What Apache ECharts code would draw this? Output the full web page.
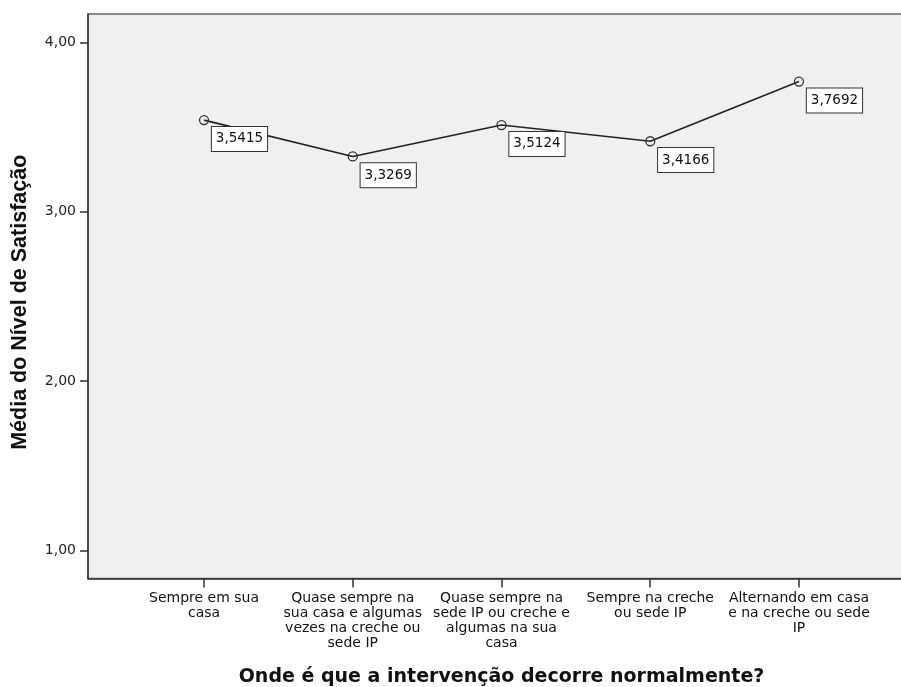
<!DOCTYPE html>
<html>
<head>
<meta charset="utf-8">
<script src="https://cdn.jsdelivr.net/npm/echarts@6/dist/echarts.min.js"></script>
<style>html,body{margin:0;padding:0;background:#fff}#c{width:901px;height:687px}</style>
</head>
<body>
<div id="c"></div>
<script>
var categories = [
  "Sempre em sua\ncasa",
  "Quase sempre na\nsua casa e algumas\nvezes na creche ou\nsede IP",
  "Quase sempre na\nsede IP ou creche e\nalgumas na sua\ncasa",
  "Sempre na creche\nou sede IP",
  "Alternando em casa\ne na creche ou sede\nIP"
];
var meanValues = [3.5415, 3.3269, 3.5124, 3.4166, 3.7692];
var yTicks = [1, 2, 3, 4];
var xTitle = "Onde é que a intervenção decorre normalmente?";
var yTitle = "Média do Nível de Satisfação";

var chart = echarts.init(document.getElementById('c'), null, {renderer: 'canvas'});
var idx = categories.map(function (c, i) { return i; });
var seriesData = meanValues.map(function (v, i) { return [i, v]; });

chart.setOption({
  animation: false,
  grid: {
    left: 88, top: 14, width: 827, height: 564.5,
    outerBoundsMode: 'none', containLabel: false,
    show: true, backgroundColor: '#f0f0f0', borderColor: '#666', borderWidth: 1.5
  },
  xAxis: {
    type: 'value', min: -0.78, max: 4.78,
    splitLine: {show: false},
    axisLine: {show: true, onZero: false, lineStyle: {color: '#333', width: 1.5}},
    axisTick: {show: true, customValues: idx, length: 9, lineStyle: {color: '#333', width: 1.5}},
    axisLabel: {
      customValues: idx, color: '#111', fontFamily: 'DejaVu Sans', fontSize: 14,
      lineHeight: 15, margin: 12,
      formatter: function (v) { return categories[Math.round(v)]; }
    },
    name: xTitle, nameLocation: 'middle', nameGap: 89,
    nameTextStyle: {fontFamily: 'DejaVu Sans', fontWeight: 'bold', fontSize: 19, color: '#111'}
  },
  yAxis: {
    type: 'value', min: 0.835, max: 4.168,
    splitLine: {show: false},
    axisLine: {show: true, onZero: false, lineStyle: {color: '#333', width: 1.5}},
    axisTick: {show: true, customValues: yTicks, length: 8, lineStyle: {color: '#333', width: 1.5}},
    axisLabel: {
      customValues: yTicks, color: '#222', fontFamily: 'DejaVu Sans', fontSize: 14, margin: 12,
      formatter: function (v) { return v.toFixed(2).replace('.', ','); }
    },
    name: yTitle, nameLocation: 'middle', nameGap: 57, nameRotate: 90,
    nameTextStyle: {fontFamily: 'Arial, Liberation Sans', fontWeight: 'bold', fontSize: 21.5, color: '#111', padding: [0, 12, 0, 0]}
  },
  series: [{
    type: 'line',
    data: seriesData,
    symbol: 'circle', symbolSize: 9,
    itemStyle: {color: 'rgba(0,0,0,0)', borderColor: '#333', borderWidth: 1.3},
    lineStyle: {color: '#222', width: 1.6},
    label: {
      show: true, position: [13, 12], align: 'left', verticalAlign: 'top',
      fontFamily: 'DejaVu Sans', fontSize: 13.5, color: '#111', lineHeight: 16,
      backgroundColor: '#fff', borderColor: '#333', borderWidth: 1,
      padding: [4, 4, 4, 4],
      formatter: function (p) { return p.value[1].toFixed(4).replace('.', ','); }
    }
  }]
});
</script>
</body>
</html>
